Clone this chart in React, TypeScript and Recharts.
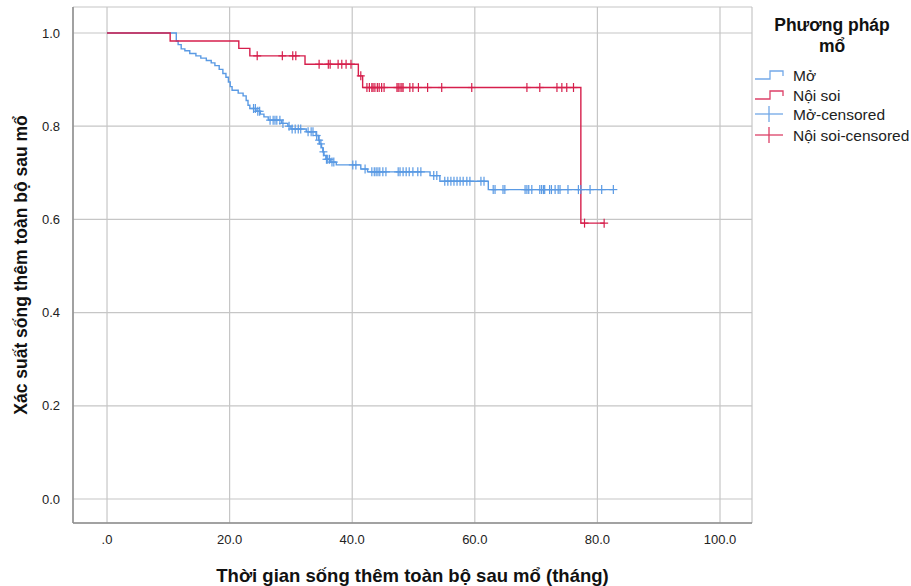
import React from 'react';
import { ComposedChart, Line, Scatter, XAxis, YAxis, CartesianGrid, Legend } from 'recharts';

// ---- Data ----
// Mở (open surgery): Kaplan-Meier step events
const moTimes = [0, 11.3, 11.6, 12.1, 12.7, 13.5, 14.5, 15.3, 16.2, 17.0, 17.6, 18.3, 18.9, 19.4, 19.8, 20.1, 20.4, 21.4, 22.2, 22.7, 23.0, 23.3, 24.3, 25.0, 25.6, 26.3, 28.5, 29.5, 30.0, 32.5, 34.1, 34.5, 34.7, 35.0, 35.2, 35.4, 35.7, 36.5, 37.4, 41.4, 42.5, 52.7, 54.3, 62.2];
const moSurv = [1.0, 0.983, 0.975, 0.966, 0.962, 0.956, 0.951, 0.946, 0.941, 0.936, 0.93, 0.922, 0.913, 0.905, 0.895, 0.885, 0.877, 0.871, 0.865, 0.855, 0.845, 0.838, 0.832, 0.826, 0.82, 0.813, 0.806, 0.8, 0.794, 0.788, 0.78, 0.77, 0.762, 0.754, 0.745, 0.737, 0.729, 0.723, 0.717, 0.708, 0.702, 0.694, 0.682, 0.664];
const moCensored = [23.9, 24.2, 24.6, 24.9, 26.6, 27.1, 27.4, 27.7, 28.2, 28.7, 29.7, 30.2, 30.7, 31.2, 31.6, 32.8, 33.3, 33.6, 34.2, 34.6, 34.9, 35.3, 35.8, 36.0, 36.3, 36.7, 37.0, 40.1, 40.6, 42.1, 43.2, 43.6, 43.9, 44.2, 44.5, 45.0, 45.5, 47.5, 47.8, 48.3, 48.8, 49.3, 49.9, 50.7, 51.2, 53.3, 53.8, 55.1, 55.6, 56.1, 56.6, 57.1, 57.6, 58.1, 58.7, 59.2, 61.0, 61.5, 63.0, 63.3, 64.6, 64.9, 68.2, 68.5, 68.8, 69.3, 70.6, 70.9, 71.2, 71.4, 72.2, 72.5, 73.1, 73.6, 73.9, 75.2, 76.9, 77.3, 78.8, 80.7, 82.6];

// Nội soi (laparoscopic): Kaplan-Meier step events
const noiTimes = [0, 10.3, 21.5, 23.3, 32.3, 41.0, 41.7, 77.3];
const noiSurv = [1.0, 0.983, 0.967, 0.951, 0.933, 0.908, 0.883, 0.592];
const noiCensored = [24.5, 28.6, 30.3, 30.8, 34.6, 36.1, 36.4, 37.7, 38.3, 39.0, 39.8, 41.4, 42.4, 42.8, 43.2, 43.4, 43.7, 44.1, 44.4, 44.8, 45.2, 47.3, 47.5, 47.8, 48.1, 48.3, 49.4, 49.9, 50.8, 52.3, 54.6, 59.5, 68.5, 70.6, 73.4, 74.2, 75.0, 76.1, 77.9, 81.1];

const xTicks = [0, 20, 40, 60, 80, 100];
const yTicks = [0, 0.2, 0.4, 0.6, 0.8, 1.0];

const legendTitle = ['Phương pháp', 'mổ'];
const seriesNames = ['Mở', 'Nội soi', 'Mở-censored', 'Nội soi-censored'];
const xTitle = 'Thời gian sống thêm toàn bộ sau mổ (tháng)';
const yTitle = 'Xác suất sống thêm toàn bộ sau mổ';

// ---- Styling ----
const BLUE = '#5a9ae4';
const RED = '#d61f4c';
const FONT = '"Liberation Sans", Arial, sans-serif';

const survAt = (times: number[], surv: number[], t: number) => {
  let s = surv[0];
  for (let i = 0; i < times.length; i++) if (times[i] <= t) s = surv[i];
  return s;
};

const stepData = (times: number[], surv: number[], cens: number[]) => {
  const pts = times.map((t, i) => ({ t, s: surv[i] }));
  const end = cens[cens.length - 1];
  pts.push({ t: end, s: survAt(times, surv, end) });
  return pts;
};

const censorData = (times: number[], surv: number[], cens: number[]) =>
  cens.map((t) => ({ t, s: survAt(times, surv, t) }));

const moLine = stepData(moTimes, moSurv, moCensored);
const noiLine = stepData(noiTimes, noiSurv, noiCensored);
const moCens = censorData(moTimes, moSurv, moCensored);
const noiCens = censorData(noiTimes, noiSurv, noiCensored);

const makeCross = (color: string) => (props: any) => {
  const { cx, cy } = props;
  if (cx == null || cy == null) return <g />;
  return (
    <g>
      <line x1={cx} x2={cx} y1={cy - 4.5} y2={cy + 4.5} stroke={color} strokeWidth={1.2} />
      <line x1={cx - 4} x2={cx + 4} y1={cy} y2={cy} stroke={color} strokeWidth={1.2} />
    </g>
  );
};

const LegendBox = () => {
  const rows = [67, 87, 106, 127];
  const colors = [BLUE, RED, BLUE, RED];
  return (
    <svg width={166} height={140} style={{ display: 'block' }}>
      <text x={87} y={23} textAnchor="middle" fontFamily={FONT} fontWeight="bold" fontSize={17.5} fill="#111">{legendTitle[0]}</text>
      <text x={87} y={44} textAnchor="middle" fontFamily={FONT} fontWeight="bold" fontSize={17.5} fill="#111">{legendTitle[1]}</text>
      {seriesNames.map((name, i) => {
        const y = rows[i];
        const c = colors[i];
        return (
          <g key={name}>
            {i < 2 ? (
              <path d={`M10,${y + 4} H25 V${y - 4} H38 V${y + 1}`} fill="none" stroke={c} strokeWidth={1.3} opacity={0.85} />
            ) : (
              <g opacity={0.85}>
                <line x1={10} x2={38} y1={y} y2={y} stroke={c} strokeWidth={1.3} />
                <line x1={24} x2={24} y1={y - 8} y2={y + 8} stroke={c} strokeWidth={1.3} />
              </g>
            )}
            <text x={48} y={y + 5.5} fontFamily={FONT} fontSize={15.5} fill="#222">{name}</text>
          </g>
        );
      })}
    </svg>
  );
};

const XTitle = (props: any) => {
  const vb = props.viewBox;
  return (
    <text x={vb.x + vb.width / 2} y={582} textAnchor="middle" fontFamily={FONT} fontWeight="bold" fontSize={18.5} fill="#111">{xTitle}</text>
  );
};

const YTitle = (props: any) => {
  const vb = props.viewBox;
  const cy = vb.y + vb.height / 2;
  return (
    <text x={22} y={cy} textAnchor="middle" dominantBaseline="middle" transform={`rotate(-90, 22, ${cy})`} fontFamily={FONT} fontWeight="bold" fontSize={17.5} fill="#111">{yTitle}</text>
  );
};

export default function App() {
  return (
    <div style={{ position: 'absolute', left: 0, top: 0 }}>
      <ComposedChart width={911} height={586} margin={{ top: 7, right: 159, bottom: 33, left: 13 }}>
        <CartesianGrid stroke="#c6c6c6" strokeWidth={1.2} />
        <XAxis
          type="number"
          dataKey="t"
          domain={[-5.55, 105.22]}
          ticks={xTicks}
          allowDataOverflow
          height={30}
          tickLine={false}
          tickMargin={6}
          axisLine={{ stroke: '#8c8c8c', strokeWidth: 1.5 }}
          tick={{ fontFamily: FONT, fontSize: 13, fill: '#222' }}
          tickFormatter={(v: number) => (v === 0 ? '.0' : v.toFixed(1))}
          label={XTitle}
        />
        <YAxis
          type="number"
          dataKey="s"
          domain={[-0.0515, 1.0558]}
          ticks={yTicks}
          allowDataOverflow
          width={60}
          tickLine={false}
          tickMargin={7}
          axisLine={{ stroke: '#8c8c8c', strokeWidth: 1.5 }}
          tick={{ fontFamily: FONT, fontSize: 13, fill: '#222' }}
          tickFormatter={(v: number) => v.toFixed(1)}
          label={YTitle}
        />
        <Legend
          layout="horizontal"
          verticalAlign="middle"
          align="center"
          wrapperStyle={{ position: 'absolute', left: 745, top: 8, width: 166 }}
          content={() => <LegendBox />}
        />
        <Line data={moLine} dataKey="s" type="stepAfter" stroke={BLUE} strokeWidth={1.4} dot={false} activeDot={false} isAnimationActive={false} name={seriesNames[0]} />
        <Scatter data={moCens} dataKey="s" shape={makeCross(BLUE)} isAnimationActive={false} name={seriesNames[2]} />
        <Line data={noiLine} dataKey="s" type="stepAfter" stroke={RED} strokeWidth={1.4} dot={false} activeDot={false} isAnimationActive={false} name={seriesNames[1]} />
        <Scatter data={noiCens} dataKey="s" shape={makeCross(RED)} isAnimationActive={false} name={seriesNames[3]} />
      </ComposedChart>
    </div>
  );
}
